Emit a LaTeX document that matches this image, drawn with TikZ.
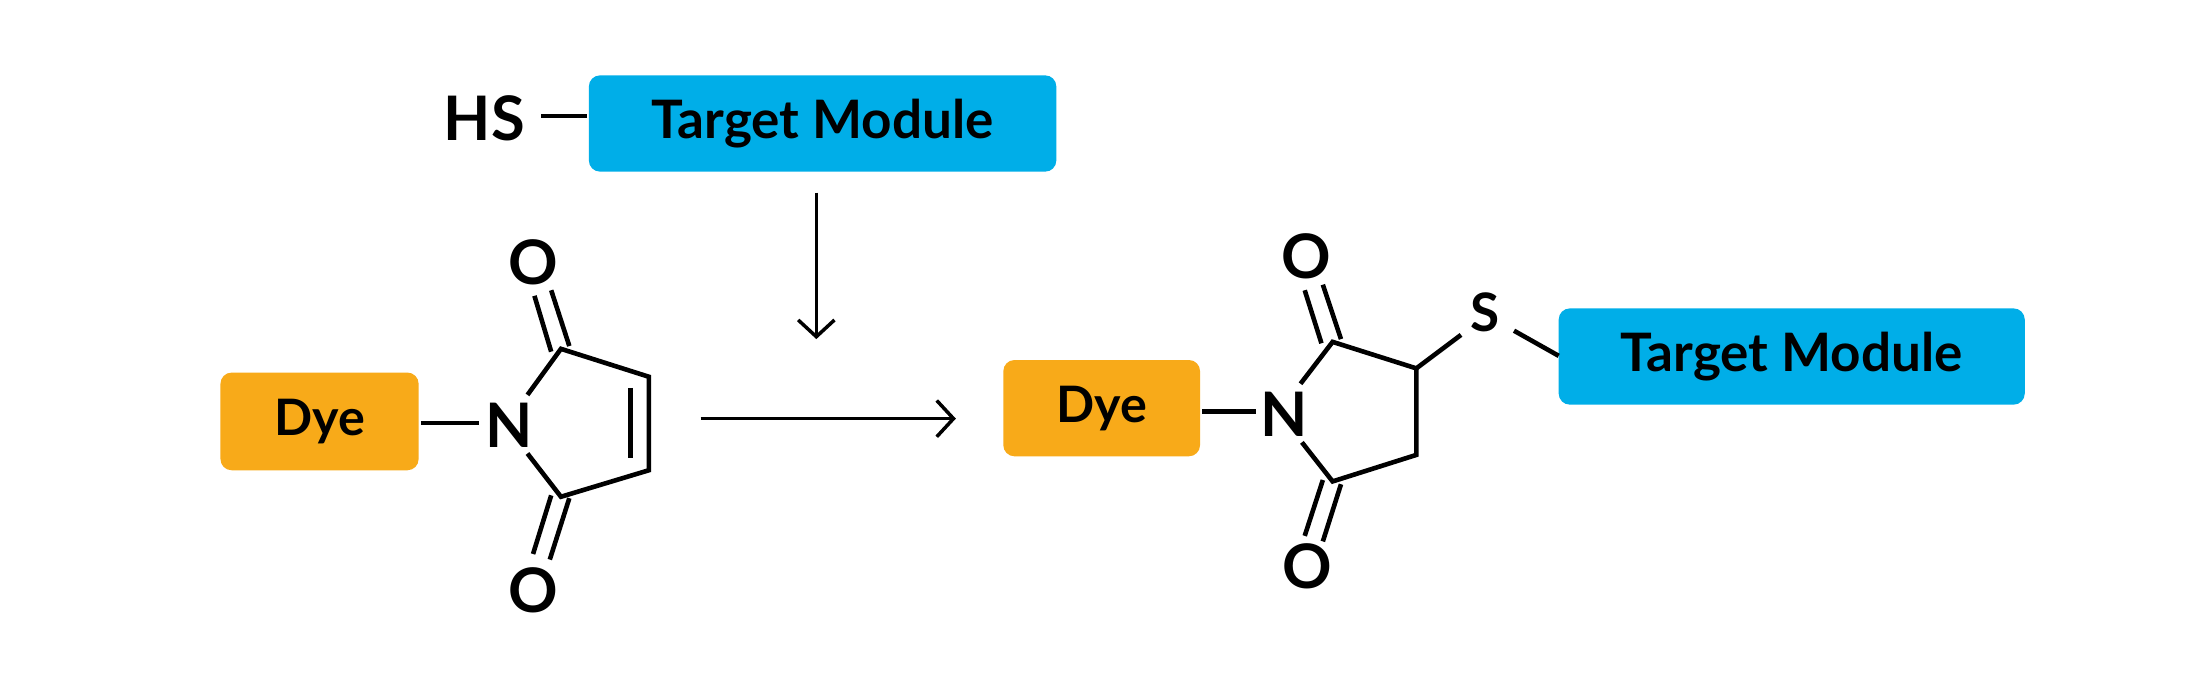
\documentclass[tikz,border=0pt]{standalone}
\usepackage{fontspec}
\setmainfont{Lato}
\usetikzlibrary{arrows.meta}
\definecolor{tblue}{HTML}{00AEE8}
\definecolor{dorange}{HTML}{F8AA19}
\begin{document}
\begin{tikzpicture}[x=1pt,y=-1pt,line width=3.3pt,
  box/.style={rounded corners=8pt,inner sep=0pt,font=\bfseries\fontsize{38}{42}\selectfont},
  atom/.style={inner sep=0pt,font=\bfseries\fontsize{44}{48}\selectfont},
  arr/.style={-{Straight Barb[length=12pt,width=26pt,line width=2.5pt]},line width=2.5pt}]
\useasboundingbox (0,0) rectangle (1568,495);
\fill[white] (0,0) rectangle (1568,495);
% top target module
\node[box,fill=tblue,minimum width=335pt,minimum height=69pt] (tm1) at (589.5,88.5) {Target Module};
\node[atom] (hs) at (347,85) {HS};
\coordinate (h1) at (388,83);
\draw (h1) -- (h1 -| tm1.west);
\coordinate (a1) at (585,138); \coordinate (a2) at (585,243);
\draw[arr] (a1) -- (a2);
% left molecule
\node[box,fill=dorange,minimum width=142pt,minimum height=70pt,font=\bfseries\fontsize{36}{40}\selectfont] (dye1) at (229,302) {Dye};
\node[atom] (n1) at (365,305) {N};
\coordinate (d1) at (343,303);
\draw (d1 -| dye1.east) -- (d1);
\draw (378,283) -- (402,250) -- (465,270) -- (465,337) -- (402,356) -- (378,325);
\draw (452,278) -- (452,328);
\node[atom] (o1) at (382,188) {O};
\node[atom] (o2) at (382,423) {O};
\draw (395,252) -- (383,212); \draw (408,248) -- (395,208);
\draw (395,355) -- (382,397); \draw (408,357) -- (394,401);
% reaction arrow
\coordinate (r1) at (502,300); \coordinate (r2) at (685,300);
\draw[arr] (r1) -- (r2);
% right molecule
\node[box,fill=dorange,minimum width=141pt,minimum height=69pt,font=\bfseries\fontsize{36}{40}\selectfont] (dye2) at (789.5,292.5) {Dye};
\node[atom] (n2) at (920,297) {N};
\coordinate (d2) at (900,295);
\draw (d2 -| dye2.east) -- (d2);
\draw (932,275) -- (955,245) -- (1015,264) -- (1015,326) -- (955,345) -- (933,317);
\node[atom] (o3) at (936,184) {O};
\node[atom] (o4) at (937,406) {O};
\draw (947,246) -- (935,208); \draw (961,243) -- (948,204);
\draw (948,344) -- (935,384); \draw (961,347) -- (948,388);
\node[atom,font=\bfseries\fontsize{38}{42}\selectfont] (s) at (1064,224) {S};
\draw (1015,264) -- (1047,240);
\node[box,fill=tblue,minimum width=334pt,minimum height=69pt] (tm2) at (1284,255.5) {Target Module};
\coordinate (s1) at (1085,237); \coordinate (s2) at (1117,255);
\draw (s1) -- (s2);
\end{tikzpicture}
\end{document}
